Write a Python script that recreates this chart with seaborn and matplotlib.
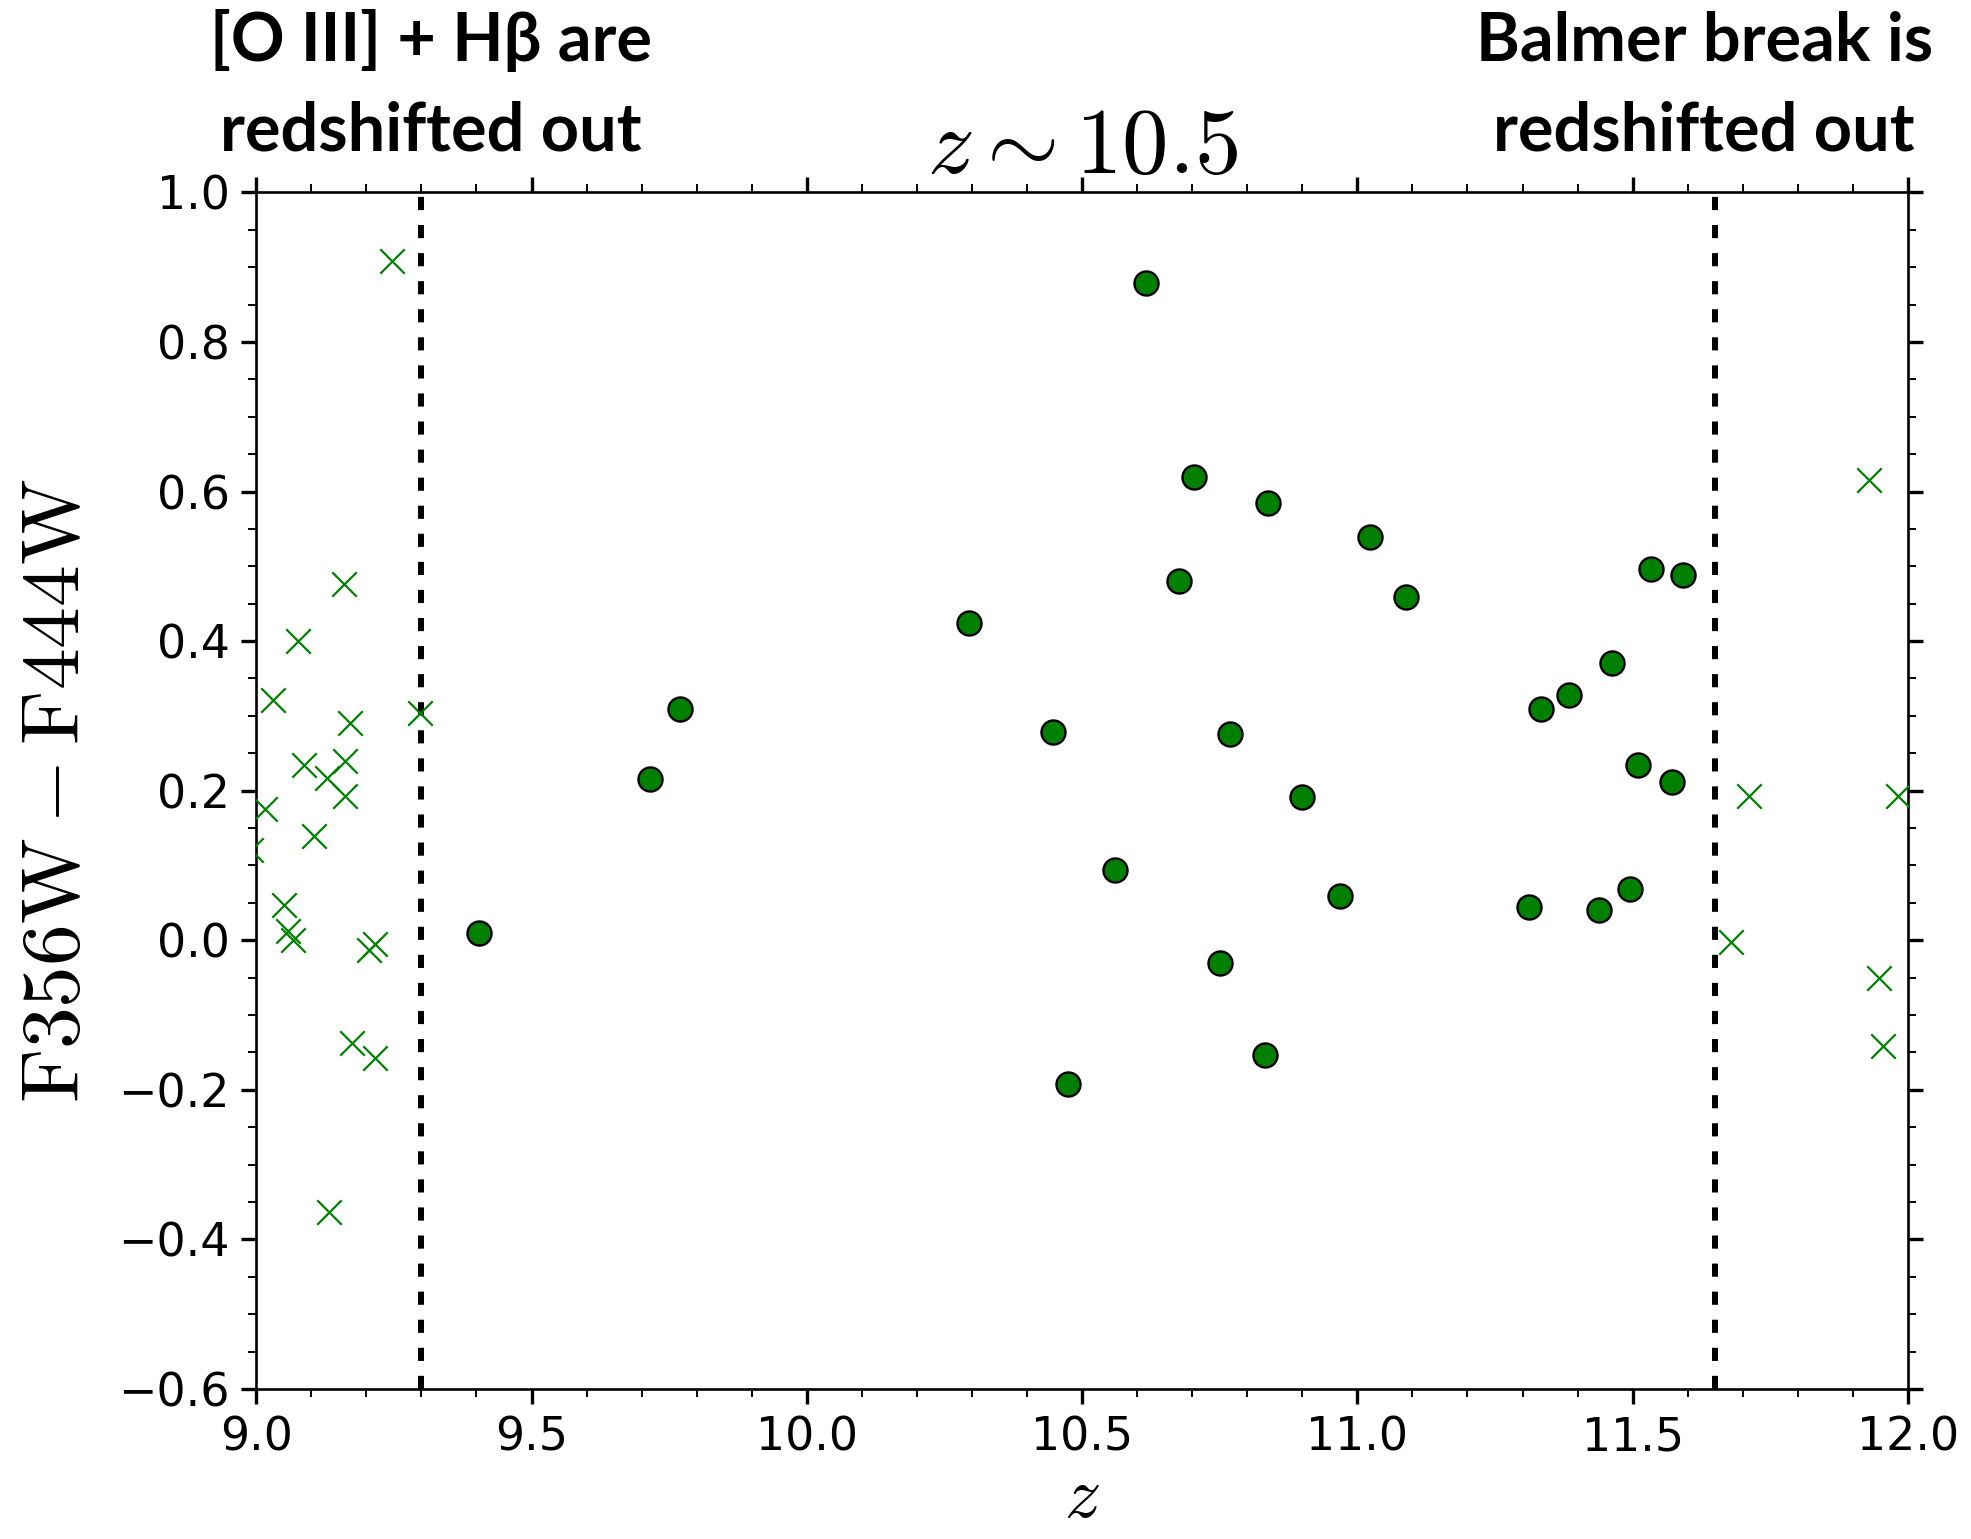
import numpy as np
import pandas as pd
import matplotlib
matplotlib.use("Agg")
import matplotlib.pyplot as plt
import seaborn as sns
from matplotlib.ticker import MultipleLocator

# Galaxies within the redshift window (filled circles)
z_in = [9.404, 9.715, 9.770, 10.295, 10.447, 10.475, 10.559, 10.616, 10.676, 10.703,
        10.751, 10.769, 10.833, 10.838, 10.900, 10.968, 11.023, 11.089, 11.311, 11.333,
        11.384, 11.438, 11.463, 11.495, 11.509, 11.534, 11.571, 11.591]
c_in = [0.010, 0.215, 0.309, 0.424, 0.279, -0.192, 0.094, 0.879, 0.481, 0.620,
        -0.030, 0.276, -0.153, 0.585, 0.192, 0.059, 0.539, 0.459, 0.045, 0.309,
        0.328, 0.040, 0.371, 0.069, 0.234, 0.496, 0.212, 0.489]

# Galaxies outside the window (crosses)
z_out = [9.247, 9.160, 9.075, 9.030, 9.297, 9.171, 9.162, 9.087, 9.128, 9.162,
         9.016, 9.105, 8.99, 9.050, 9.057, 9.066, 9.205, 9.215, 9.174, 9.215,
         9.132, 11.929, 11.678, 11.712, 11.982, 11.947, 11.954]
c_out = [0.908, 0.476, 0.400, 0.321, 0.304, 0.291, 0.240, 0.234, 0.217, 0.193,
         0.175, 0.139, 0.121, 0.047, 0.012, 0.000, -0.013, -0.005, -0.138, -0.158,
         -0.363, 0.615, -0.003, 0.193, 0.193, -0.050, -0.141]

z_limits = [9.3, 11.65]
title = r"$z\sim10.5$"
left_note = "[O III] + Hβ are\nredshifted out"
right_note = "Balmer break is\nredshifted out"

sns.set_style("ticks")
plt.rcParams["mathtext.fontset"] = "cm"
plt.rcParams["font.family"] = ["DejaVu Sans"]
for k in ["text.color", "axes.labelcolor", "xtick.color", "ytick.color", "axes.edgecolor"]:
    plt.rcParams[k] = "black"

fig = plt.figure(figsize=(19.71, 15.39), dpi=100)
ax = fig.add_axes([0.130, 0.0975, 0.838, 0.7775])

df_in = pd.DataFrame({"z": z_in, "c": c_in})
df_out = pd.DataFrame({"z": z_out, "c": c_out})

sns.scatterplot(data=df_out, x="z", y="c", marker="x", s=310, color="green",
                linewidth=1.6, ax=ax, zorder=3)
sns.scatterplot(data=df_in, x="z", y="c", marker="o", s=300, color="green",
                edgecolor="black", linewidth=1.7, ax=ax, zorder=4)

for zl in z_limits:
    ax.axvline(zl, color="black", linestyle=(0, (2.2, 2.5)), linewidth=4.3, zorder=2)

ax.set_xlim(9.0, 12.0)
ax.set_ylim(-0.6, 1.0)
ax.xaxis.set_major_locator(MultipleLocator(0.5))
ax.xaxis.set_minor_locator(MultipleLocator(0.1))
ax.yaxis.set_major_locator(MultipleLocator(0.2))
ax.yaxis.set_minor_locator(MultipleLocator(0.05))
ax.tick_params(which="both", direction="out", top=True, right=True,
               labeltop=False, labelright=False)
ax.tick_params(which="major", length=11, width=2.4, labelsize=33, pad=8)
ax.tick_params(which="minor", length=6, width=1.4)
for sp in ax.spines.values():
    sp.set_linewidth(1.9)
    sp.set_visible(True)

ax.set_xlabel(r"$z$", fontsize=52, labelpad=2)
ax.set_ylabel(r"$\mathrm{F356W - F444W}$", fontsize=60, labelpad=16)
ax.set_title(title, fontsize=67, pad=2)

ax.text(9.317, 1.04, left_note, ha="center", va="bottom", fontsize=48,
        family=["Lato", "DejaVu Sans"], weight="bold", linespacing=1.55,
        transform=ax.transData, clip_on=False)
ax.text(11.63, 1.04, right_note, ha="center", va="bottom", fontsize=48,
        family=["Lato", "DejaVu Sans"], weight="bold", linespacing=1.55,
        transform=ax.transData, clip_on=False)

fig.savefig("out.png", dpi=100, facecolor="white")
